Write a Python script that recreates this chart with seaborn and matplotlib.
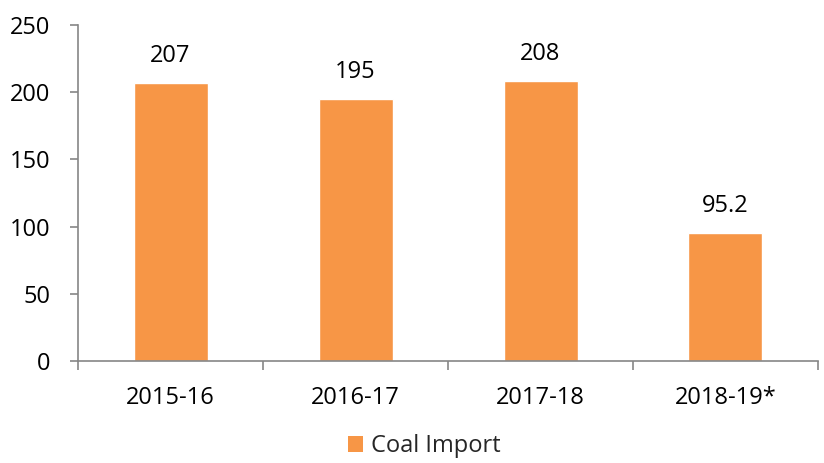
import numpy                as np
import pandas               as pd
import seaborn              as sns
import matplotlib.pyplot    as plt

from matplotlib.patches import Patch

# ======================================================================== DATA ========================================================================

years        = ["2015-16", "2016-17", "2017-18", "2018-19*"]
coal_import  = [207, 195, 208, 95.2]
value_labels = ["207", "195", "208", "95.2"]
y_ticks      = [0, 50, 100, 150, 200, 250]
series_name  = "Coal Import"

BAR_COLOR   = "#F79646"
SPINE_COLOR = "#868686"

dataframe = pd.DataFrame({"Year": years, series_name: coal_import})

# ======================================================================== PLOT ========================================================================

sns.set_theme(style="white")
plt.rcParams['font.family'] = ['Open Sans', 'DejaVu Sans']

fig = plt.figure(figsize=(8.24, 4.63), dpi=100)
ax = fig.add_axes([0.0947, 0.2203, 0.898, 0.7257])

g = sns.barplot(data=dataframe, x="Year", y=series_name, color=BAR_COLOR, width=0.4, saturation=1, ax=ax)
for container in g.containers:
    g.bar_label(container, labels=value_labels, fontsize=17, padding=11, color="black")

ax.set_xlim(-0.5, len(years) - 0.5)
ax.set_ylim(0, 250)
ax.set_yticks(y_ticks)
ax.set_xlabel("")
ax.set_ylabel("")

sns.despine(ax=ax, top=True, right=True)
for side in ["left", "bottom"]:
    ax.spines[side].set_color(SPINE_COLOR)
    ax.spines[side].set_linewidth(1.2)

# ticks at category boundaries on x
ax.set_xticks(np.arange(-0.5, len(years), 1.0), minor=True)
ax.tick_params(axis="x", which="major", length=0, pad=18, labelsize=17, colors="black")
ax.tick_params(axis="x", which="minor", bottom=True, length=6.5, width=1.2, color=SPINE_COLOR, direction="out")
ax.tick_params(axis="y", which="major", left=True, length=6, width=1.2, color=SPINE_COLOR, pad=14, labelsize=17, labelcolor="black")

handle = Patch(facecolor=BAR_COLOR, edgecolor="none", label=series_name)
fig.legend(handles=[handle], loc="lower center", bbox_to_anchor=(0.515, -0.036), frameon=False,
           fontsize=17, handlelength=0.65, handleheight=0.65, handletextpad=0.35)

plt.savefig("out.png", dpi=100)
